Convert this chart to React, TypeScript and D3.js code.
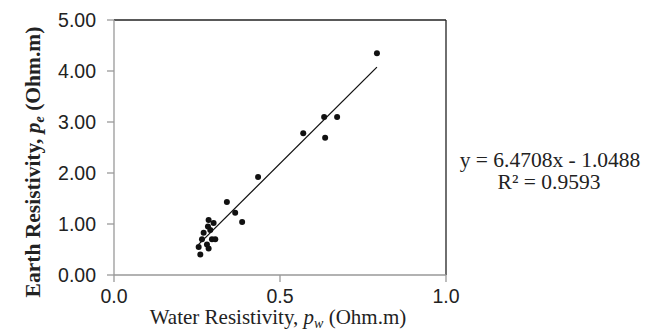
import React from "react";
import * as d3 from "d3";

const waterRes = [0.255, 0.26, 0.265, 0.27, 0.28, 0.285, 0.283, 0.285, 0.29, 0.295, 0.3, 0.305, 0.34, 0.365, 0.386, 0.434, 0.57, 0.633, 0.636, 0.672, 0.792];
const earthRes = [0.55, 0.4, 0.7, 0.83, 0.6, 0.52, 0.95, 1.08, 0.88, 0.7, 1.02, 0.7, 1.43, 1.22, 1.04, 1.92, 2.78, 3.1, 2.69, 3.1, 4.35];
const xTicks = [0, 0.5, 1.0];
const yTicks = [0, 1, 2, 3, 4, 5];
const slope = 6.4708;
const intercept = -1.0488;
const eqText = "y = 6.4708x - 1.0488";
const r2Text = "R² = 0.9593";

export default function App() {
  const W = 646, H = 329;
  const left = 114, right = 446, top = 20, bottom = 275;
  const x = d3.scaleLinear().domain([0, 1]).range([left, right]);
  const y = d3.scaleLinear().domain([0, 5]).range([bottom, top]);
  const xMin = d3.min(waterRes) as number;
  const xMax = d3.max(waterRes) as number;
  const line = d3.line<number>().x((d) => x(d)).y((d) => y(slope * d + intercept));
  const sans = "'Liberation Sans', Arial, sans-serif";
  const serif = "'Liberation Serif', 'Times New Roman', serif";
  return (
    <svg width={W} height={H} style={{ position: "absolute", left: 0, top: 0, background: "#fff" }}>
      <line x1={left} x2={right} y1={top} y2={top} stroke="#222" strokeWidth={1.3} />
      <line x1={right} x2={right} y1={top} y2={bottom} stroke="#222" strokeWidth={1.3} />
      <line x1={left} x2={left} y1={top} y2={bottom} stroke="#999" strokeWidth={1.3} />
      <line x1={left} x2={right} y1={bottom} y2={bottom} stroke="#999" strokeWidth={1.3} />
      {yTicks.map((t) => (
        <g key={"y" + t}>
          <line x1={left - 7} x2={left} y1={y(t)} y2={y(t)} stroke="#999" strokeWidth={1.3} />
          <text x={96} y={y(t)} dy="0.36em" textAnchor="end" fontFamily={sans} fontSize={19.5} fill="#222">
            {t.toFixed(2)}
          </text>
        </g>
      ))}
      {xTicks.map((t) => (
        <g key={"x" + t}>
          <line x1={x(t)} x2={x(t)} y1={bottom} y2={bottom + 7} stroke="#999" strokeWidth={1.3} />
          <text x={x(t)} y={303} textAnchor="middle" fontFamily={sans} fontSize={19.5} fill="#222">
            {t.toFixed(1)}
          </text>
        </g>
      ))}
      <path d={line([xMin, xMax]) || ""} stroke="#111" strokeWidth={1.3} fill="none" />
      {waterRes.map((w, i) => (
        <circle key={i} cx={x(w)} cy={y(earthRes[i])} r={3} fill="#111" />
      ))}
      <text x={278} y={324} textAnchor="middle" fontFamily={serif} fontSize={21} fill="#222">
        Water Resistivity, <tspan fontStyle="italic">p</tspan>
        <tspan fontStyle="italic" fontSize={14} dy={4}>w</tspan>
        <tspan dy={-4}> (Ohm.m)</tspan>
      </text>
      <text transform={`translate(40,162) rotate(-90)`} textAnchor="middle" fontFamily={serif} fontSize={21.5} fontWeight="bold" fill="#222">
        Earth Resistivity, <tspan fontStyle="italic">p</tspan>
        <tspan fontStyle="italic" fontSize={14} dy={4}>e</tspan>
        <tspan dy={-4}> (Ohm.m)</tspan>
      </text>
      <text x={550} y={167} textAnchor="middle" fontFamily={serif} fontSize={21.5} fill="#222">{eqText}</text>
      <text x={549} y={189} textAnchor="middle" fontFamily={serif} fontSize={21.5} fill="#222">{r2Text}</text>
    </svg>
  );
}
